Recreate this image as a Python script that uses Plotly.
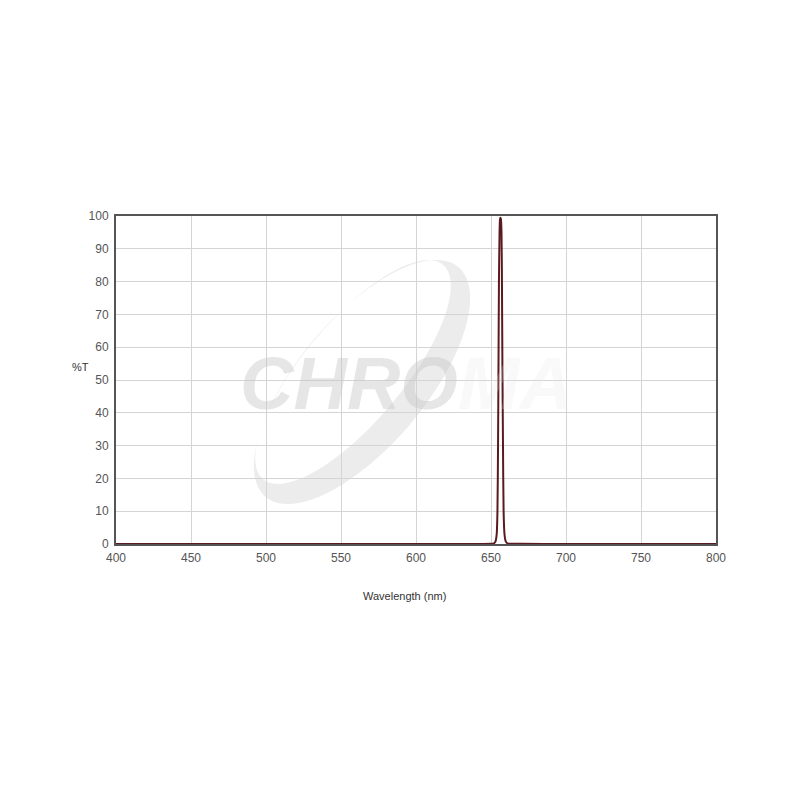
import numpy as np
import plotly.graph_objects as go

# Data (wavelength in nm, transmission in %)
wavelength = [400, 500, 600, 640, 650, 652.0, 653.0, 653.8, 654.3, 654.7, 655.0, 655.3, 655.7,
              656.0, 656.3, 656.6, 657.0, 657.3, 657.6, 658.0, 658.4, 659.0, 659.8, 661.0,
              670, 700, 750, 800]
transmission = [0.0, 0.0, 0.0, 0.0, 0.05, 0.2, 0.8, 3.0, 10.0, 30.0, 55.0, 80.0, 95.0,
                99.0, 99.5, 99.0, 95.0, 80.0, 55.0, 30.0, 10.0, 3.0, 0.8, 0.2,
                0.05, 0.0, 0.0, 0.0]

x_ticks = [400, 450, 500, 550, 600, 650, 700, 750, 800]
y_ticks = [0, 10, 20, 30, 40, 50, 60, 70, 80, 90, 100]

# plot area in page pixels (page body adds an 8px offset)
OFF = 8
L, R, T, B = 116, 716, 216, 544

def px_to_paper(px, py):
    return (px - L) / (R - L), (B - py) / (B - T)

fig = go.Figure()
fig.add_trace(go.Scatter(
    x=wavelength, y=transmission, mode="lines",
    line=dict(color="#5a1a1f", width=2, shape="spline", smoothing=0.6),
    hoverinfo="x+y", showlegend=False,
))

# Watermark swoosh (crescent) built as path in paper coords
def ellipse_pts(cx, cy, a, b, ang_deg, n=90, reverse=False):
    ang = np.deg2rad(ang_deg)
    ts = np.linspace(0, 2 * np.pi, n, endpoint=False)
    if reverse:
        ts = ts[::-1]
    pts = []
    for t in ts:
        ex, ey = a * np.cos(t), b * np.sin(t)
        px = cx + ex * np.cos(ang) + ey * np.sin(ang)
        py = cy - ex * np.sin(ang) + ey * np.cos(ang)
        pts.append(px_to_paper(px, py))
    return pts

outer = ellipse_pts(362, 382, 150, 64, 50)
inner = ellipse_pts(353, 372, 140, 50, 50, reverse=True)

def to_path(pts):
    s = "M %.4f,%.4f " % pts[0]
    s += " ".join("L %.4f,%.4f" % p for p in pts[1:])
    return s + " Z"

path = to_path(outer) + " " + to_path(inner)

shapes = [dict(type="path", xref="paper", yref="paper", path=path,
               fillcolor="rgba(200,200,200,0.35)", line=dict(width=0), layer="below")]

wx, wy = px_to_paper(406, 383)
annotations = [
    dict(text="<b><i>CHRO</i></b><span style='color:rgba(228,228,228,0.5)'><b><i>MA</i></b></span>",
         x=wx, y=wy, xref="paper", yref="paper", showarrow=False,
         xanchor="center", yanchor="middle",
         font=dict(family="Liberation Sans, Arial", size=74, color="rgba(200,200,200,0.45)")),
]
for txt, px, py in [("%T", 80, 367), ("Wavelength (nm)", 404, 596)]:
    ax, ay = px_to_paper(px, py)
    annotations.append(dict(text=txt, x=ax, y=ay, xref="paper", yref="paper", showarrow=False,
                            xanchor="center", yanchor="middle",
                            font=dict(family="Liberation Sans, Arial", size=11, color="#333")))

axis_common = dict(
    showline=True, linecolor="#555555", linewidth=2, mirror=True,
    showgrid=True, gridcolor="#d4d4d4", gridwidth=1,
    zeroline=False, ticks="", fixedrange=True,
    tickfont=dict(family="Liberation Sans, Arial", size=12, color="#555555"),
)

fig.update_layout(
    width=800, height=800,
    margin=dict(l=L - OFF, r=800 - R + OFF, t=T - OFF, b=800 - B + OFF),
    paper_bgcolor="white", plot_bgcolor="white",
    xaxis=dict(range=[400, 800], tickvals=x_ticks, ticktext=[str(v) for v in x_ticks],
               ticklabelstandoff=2, **axis_common),
    yaxis=dict(range=[0, 100], tickvals=y_ticks, ticktext=[str(v) for v in y_ticks],
               ticklabelstandoff=3, **axis_common),
    shapes=shapes, annotations=annotations,
    showlegend=False,
)

fig.write_html("out.html")
